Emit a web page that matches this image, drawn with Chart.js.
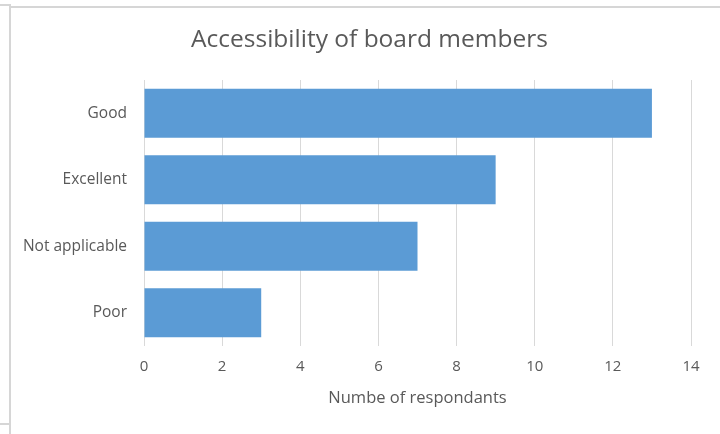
<!DOCTYPE html>
<html>
<head>
<meta charset="utf-8">
<script src="https://cdn.jsdelivr.net/npm/chart.js@4/dist/chart.umd.min.js"></script>
<style>
  html, body { margin: 0; padding: 0; background: #fff; }
  #wrap { position: relative; width: 720px; height: 434px; overflow: hidden; }
  #c { position: absolute; left: 0; top: 0; }
  .ln { position: absolute; background: #d6d6d6; }
</style>
</head>
<body>
<div id="wrap">
  <canvas id="c" width="720" height="434"></canvas>
  <div class="ln" style="left:0;top:4px;width:10px;height:2px;"></div>
  <div class="ln" style="left:9px;top:4px;width:2px;height:430px;"></div>
  <div class="ln" style="left:11px;top:6px;width:709px;height:2px;"></div>
  <div class="ln" style="left:0;top:423px;width:9px;height:2px;"></div>
</div>
<script>
const categories = ["Good", "Excellent", "Not applicable", "Poor"];
const respondents = [13, 9, 7, 3];
const xTicks = [0, 2, 4, 6, 8, 10, 12, 14];
const chartTitle = "Accessibility of board members";
const xAxisTitle = "Numbe of respondants";

const FONT = "'Open Sans', Lato, sans-serif";
const TXT = "#595959";

// Title drawn centred over the framed chart region (slightly right of canvas centre)
const titlePlugin = {
  id: 'offsetTitle',
  afterDraw(chart) {
    const ctx = chart.ctx;
    ctx.save();
    ctx.font = "24.5px " + FONT;
    ctx.fillStyle = TXT;
    ctx.textAlign = 'center';
    ctx.textBaseline = 'middle';
    ctx.fillText(chartTitle, 369.5, 40);
    ctx.restore();
  }
};

new Chart(document.getElementById('c'), {
  type: 'bar',
  data: {
    labels: categories,
    datasets: [{
      data: respondents,
      backgroundColor: '#5B9BD5',
      borderWidth: 0,
      barPercentage: 0.74,
      categoryPercentage: 1.0
    }]
  },
  plugins: [titlePlugin],
  options: {
    indexAxis: 'y',
    responsive: false,
    animation: false,
    devicePixelRatio: 1,
    layout: { padding: { top: 80, right: 29, bottom: 0, left: 0 } },
    plugins: {
      legend: { display: false },
      tooltip: { enabled: false },
      title: { display: false }
    },
    scales: {
      x: {
        min: 0, max: 14,
        afterBuildTicks: (s) => { s.ticks = xTicks.map(v => ({ value: v })); },
        afterFit: (s) => { s.height = 88; },
        grid: { color: '#D9D9D9', lineWidth: 1, drawTicks: false },
        border: { display: false },
        ticks: { color: TXT, padding: 12, font: { family: FONT, size: 15 } },
        title: {
          display: true, text: xAxisTitle, color: TXT,
          font: { family: FONT, size: 16.5 },
          padding: { top: 0, bottom: 26 }
        }
      },
      y: {
        afterFit: (s) => { s.width = 144; },
        grid: { display: false, drawTicks: false },
        border: { display: false },
        ticks: { color: TXT, padding: 17, font: { family: FONT, size: 15.5 } }
      }
    }
  }
});
</script>
</body>
</html>
